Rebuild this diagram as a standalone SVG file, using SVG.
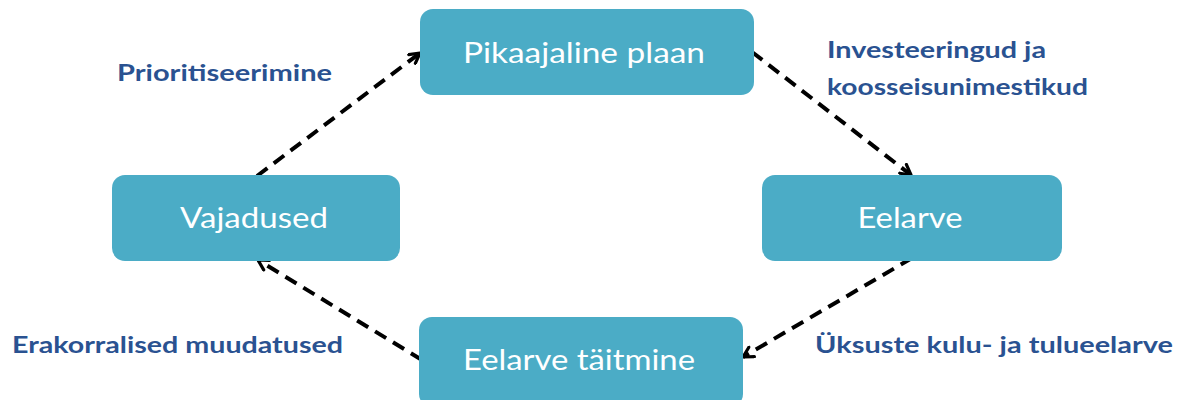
<svg xmlns="http://www.w3.org/2000/svg" width="1183" height="400" viewBox="0 0 1183 400">
<style>
.box{fill:#4BACC6;}
.nt{font-family:Lato,"Open Sans","Liberation Sans",sans-serif;font-size:29px;fill:#ffffff;text-anchor:middle;}
.lbl{font-family:Lato,"Open Sans","Liberation Sans",sans-serif;font-weight:bold;font-size:23px;fill:#2A5291;}
.conn{stroke:#000;stroke-width:4;fill:none;stroke-dasharray:13 8;marker-end:url(#arr);}
</style>
<defs>
<marker id="arr" viewBox="0 0 14 14" refX="12" refY="7" markerWidth="14" markerHeight="14" markerUnits="userSpaceOnUse" orient="auto">
<path d="M2,1.5 L12,7 L2,12.5" fill="none" stroke="#000" stroke-width="3.2" stroke-linecap="round" stroke-linejoin="round"/>
</marker>
</defs>
<rect width="1183" height="400" fill="#fff"/>
<g id="connectors">
<path class="conn" d="M257,176 L420,53"/>
<path class="conn" d="M752,52 L911,175"/>
<path class="conn" d="M912,258 L743,357"/>
<path class="conn" d="M422,360 L258,260"/>
</g>
<g id="node-pikaajaline">
<rect class="box" x="420" y="9" width="334" height="86" rx="13"/>
<text class="nt" x="584" y="63" textLength="242" lengthAdjust="spacingAndGlyphs">Pikaajaline plaan</text>
</g>
<g id="node-eelarve">
<rect class="box" x="762" y="175" width="300" height="86" rx="13"/>
<text class="nt" x="910" y="228" textLength="105" lengthAdjust="spacingAndGlyphs">Eelarve</text>
</g>
<g id="node-vajadused">
<rect class="box" x="112" y="175" width="288" height="86" rx="13"/>
<text class="nt" x="254" y="228" textLength="148" lengthAdjust="spacingAndGlyphs">Vajadused</text>
</g>
<g id="node-taitmine">
<rect class="box" x="419" y="317" width="324" height="90" rx="13"/>
<text class="nt" x="579" y="370" textLength="232" lengthAdjust="spacingAndGlyphs">Eelarve täitmine</text>
</g>
<g id="labels">
<text class="lbl" x="117" y="81" textLength="215" lengthAdjust="spacingAndGlyphs">Prioritiseerimine</text>
<text class="lbl" x="827" y="58" textLength="219" lengthAdjust="spacingAndGlyphs">Investeeringud ja</text>
<text class="lbl" x="827" y="95" textLength="261" lengthAdjust="spacingAndGlyphs">koosseisunimestikud</text>
<text class="lbl" x="12" y="353" textLength="331" lengthAdjust="spacingAndGlyphs">Erakorralised muudatused</text>
<text class="lbl" x="815" y="353" textLength="358" lengthAdjust="spacingAndGlyphs">Üksuste kulu- ja tulueelarve</text>
</g>
</svg>
